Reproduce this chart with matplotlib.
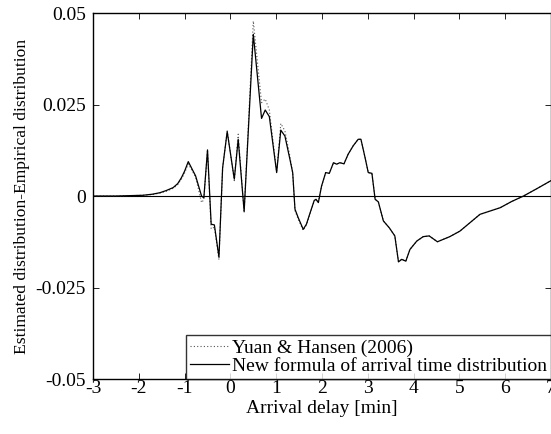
import matplotlib
matplotlib.use("Agg")
import matplotlib.pyplot as plt

plt.rcParams["font.family"] = ["Liberation Serif", "DejaVu Serif"]
plt.rcParams["mathtext.fontset"] = "stix"

## data
delay = [-3.0, -2.5, -2.2, -1.91, -1.7, -1.54, -1.4, -1.25, -1.15, -1.07, -1.0, -0.92,
         -0.76, -0.63, -0.58, -0.50, -0.42, -0.35, -0.25, -0.17, -0.07, 0.085, 0.17,
         0.30, 0.50, 0.68, 0.76, 0.85, 1.01, 1.10, 1.19, 1.30, 1.36, 1.41, 1.48, 1.59,
         1.66, 1.74, 1.83, 1.87, 1.92, 1.99, 2.08, 2.16, 2.25, 2.32, 2.39, 2.48, 2.57,
         2.68, 2.79, 2.85, 2.94, 3.01, 3.09, 3.16, 3.23, 3.34, 3.47, 3.59, 3.67, 3.74,
         3.83, 3.92, 4.07, 4.21, 4.34, 4.52, 4.79, 5.01, 5.23, 5.45, 5.67, 5.89, 6.14,
         6.40, 6.69, 7.0]

new_formula = [0.0, 0.0, 0.0001, 0.0002, 0.0005, 0.0009, 0.0015, 0.0023, 0.0034, 0.005, 0.0068, 0.0094,
               0.0055, 0.0, -0.0005, 0.0126, -0.0077, -0.0079, -0.0167, 0.0077, 0.0176, 0.0046, 0.0155,
               -0.0042, 0.0442, 0.0212, 0.0235, 0.0217, 0.0064, 0.018, 0.0164, 0.010, 0.0064, -0.0036, -0.0059, -0.0091,
               -0.0077, -0.0046, -0.0012, -0.0009, -0.0018, 0.0027, 0.0064, 0.0062, 0.0091, 0.0087, 0.0091, 0.0088, 0.0114,
               0.0137, 0.0155, 0.0155, 0.0105, 0.0064, 0.0062, -0.0009, -0.0016, -0.0068, -0.0087, -0.0109, -0.0180, -0.0173,
               -0.0178, -0.0146, -0.0123, -0.0111, -0.0109, -0.0125, -0.0111, -0.0096, -0.0073, -0.0050, -0.0041, -0.0032, -0.0015,
               0.0, 0.0020, 0.0042]

yuan_hansen = [0.0, 0.0, 0.0001, 0.0002, 0.0004, 0.0008, 0.0013, 0.0021, 0.0031, 0.0046, 0.0063, 0.0088,
               0.0052, -0.0018, -0.0010, 0.0126, -0.0090, -0.0085, -0.0174, 0.0077, 0.0178, 0.0042, 0.0169,
               -0.0046, 0.0478, 0.0255, 0.0265, 0.0235, 0.0066, 0.0198, 0.0178, 0.0108, 0.0062, -0.0040, -0.0063, -0.0094,
               -0.0079, -0.0048, -0.0014, -0.0009, -0.0018, 0.0027, 0.0064, 0.0062, 0.0091, 0.0087, 0.0091, 0.0088, 0.0114,
               0.0137, 0.0155, 0.0155, 0.0105, 0.0064, 0.0062, -0.0009, -0.0016, -0.0068, -0.0087, -0.0109, -0.0180, -0.0173,
               -0.0178, -0.0146, -0.0123, -0.0111, -0.0109, -0.0125, -0.0111, -0.0096, -0.0073, -0.0050, -0.0041, -0.0032, -0.0015,
               0.0, 0.0020, 0.0042]

x_ticks = [-3, -2, -1, 0, 1, 2, 3, 4, 5, 6, 7]
y_ticks = [-0.05, -0.025, 0, 0.025, 0.05]
y_tick_labels = ["-0.05", "-0.025", "0", "0.025", "0.05"]

fig = plt.figure(figsize=(5.51, 4.34), dpi=100)
ax = fig.add_axes([0.1688, 0.1267, 0.8312, 0.8433])

ax.axhline(0, color="black", lw=0.8)
ax.plot(delay, yuan_hansen, color="#555555", ls=(0, (1, 2)), lw=0.8, label="Yuan & Hansen (2006)")
ax.plot(delay, new_formula, color="black", lw=0.9, label="New formula of arrival time distribution")

ax.set_xlim(-3, 7)
ax.set_ylim(-0.05, 0.05)
ax.set_xticks(x_ticks)
ax.set_xticklabels([str(t) for t in x_ticks])
ax.set_yticks(y_ticks)
ax.set_yticklabels(y_tick_labels)
ax.tick_params(direction="in", top=True, right=True, labelsize=14, length=4, width=0.6)
ax.tick_params(axis="x", pad=1)
ax.tick_params(axis="y", pad=5)
for s in ax.spines.values():
    s.set_linewidth(1.0)

ax.set_xlabel("Arrival delay [min]", fontsize=14, labelpad=2)
ax.set_ylabel("Estimated distribution-Empirical distribution", fontsize=12.6, labelpad=4)

leg = ax.legend(loc="lower right", fontsize=14, borderaxespad=0.0, fancybox=False,
                handlelength=2.0, handletextpad=0.15, labelspacing=0.05, borderpad=0.2)
leg.get_frame().set_edgecolor("black")
leg.get_frame().set_linewidth(1.0)

fig.savefig("out.png", dpi=100)
